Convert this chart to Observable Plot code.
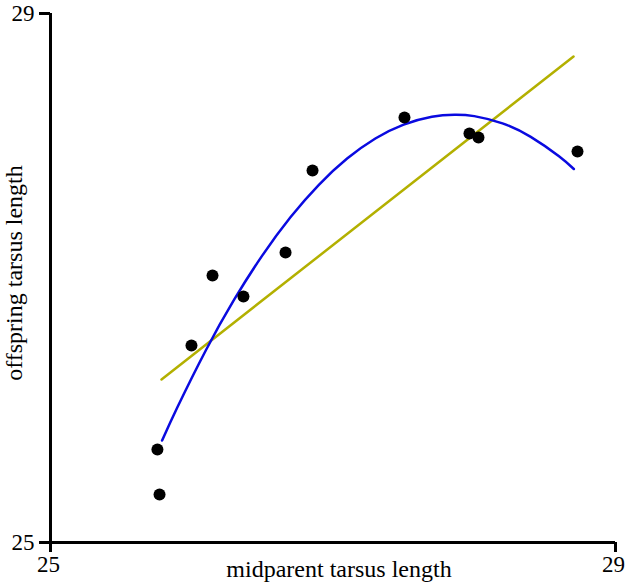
<!DOCTYPE html>
<html>
<head>
<meta charset="utf-8">
<script src="https://cdn.jsdelivr.net/npm/d3@7"></script>
<script src="https://cdn.jsdelivr.net/npm/@observablehq/plot@0.6"></script>
<style>
  html, body { margin: 0; padding: 0; background: #fff; }
  #chart svg { display: block; }
</style>
</head>
<body>
<div id="chart"></div>
<script>
// Observed data points (midparent, offspring)
const midparent = [25.757, 25.772, 25.998, 26.147, 26.366, 26.664, 26.855, 27.506, 27.966, 28.030, 28.731];
const offspring = [25.703, 25.363, 26.490, 27.019, 26.860, 27.193, 27.813, 28.214, 28.093, 28.062, 27.957];

// Linear fit line endpoints
const linearX = [25.786, 28.703];
const linearY = [26.233, 28.675];

const quadX = [25.79, 25.9, 26.1, 26.3, 26.5, 26.7, 26.9, 27.1, 27.3, 27.5, 27.7, 27.86, 28.0, 28.2, 28.4, 28.6, 28.705];
const quadY = [25.771, 26.026, 26.454, 26.836, 27.171, 27.461, 27.705, 27.903, 28.055, 28.160, 28.220, 28.235, 28.224, 28.169, 28.067, 27.920, 27.824];

const xTicks = [25, 29];
const yTicks = [25, 29];
const xLabel = "midparent tarsus length";
const yLabel = "offspring tarsus length";

const points = midparent.map((x, i) => ({x, y: offspring[i]}));
const linear = linearX.map((x, i) => ({x, y: linearY[i]}));
const quad = quadX.map((x, i) => ({x, y: quadY[i]}));

const font = "Liberation Serif";

const chart = Plot.plot({
  width: 626,
  height: 585,
  marginLeft: 50,
  marginRight: 11,
  marginTop: 13,
  marginBottom: 43,
  style: {fontFamily: font, background: "#fff", color: "#000"},
  x: {domain: [25, 29]},
  y: {domain: [25, 29]},
  marks: [
    Plot.axisX({ticks: xTicks, tickSize: 10, strokeWidth: 3, tickFormat: () => "", label: null}),
    Plot.axisY({ticks: yTicks, tickSize: 11, strokeWidth: 3, tickFormat: () => "", label: null}),
    Plot.text(xTicks, {x: d => d, frameAnchor: "bottom", text: d => String(d), dy: 29, dx: -2, fontSize: 23, fontFamily: font, fill: "#000"}),
    Plot.text(yTicks, {y: d => d, frameAnchor: "left", text: d => String(d), textAnchor: "end", dx: -16, fontSize: 23, fontFamily: font, fill: "#000"}),
    Plot.ruleY([25], {stroke: "#000", strokeWidth: 3}),
    Plot.ruleX([25], {stroke: "#000", strokeWidth: 3}),
    Plot.line(linear, {x: "x", y: "y", stroke: "#b3b000", strokeWidth: 2.5}),
    Plot.line(quad, {x: "x", y: "y", stroke: "#0a0ae0", strokeWidth: 2.5, curve: "natural"}),
    Plot.dot(points, {x: "x", y: "y", r: 6, fill: "#000", stroke: "none"}),
    Plot.text([xLabel], {frameAnchor: "bottom", text: d => d, dy: 34, dx: 6, fontSize: 24, fontFamily: font, fill: "#000"}),
    Plot.text([yLabel], {frameAnchor: "left", text: d => d, textAnchor: "middle", dx: -36, dy: -5, rotate: -90, fontSize: 24, fontFamily: font, fill: "#000"})
  ]
});

document.getElementById("chart").appendChild(chart);
</script>
</body>
</html>
